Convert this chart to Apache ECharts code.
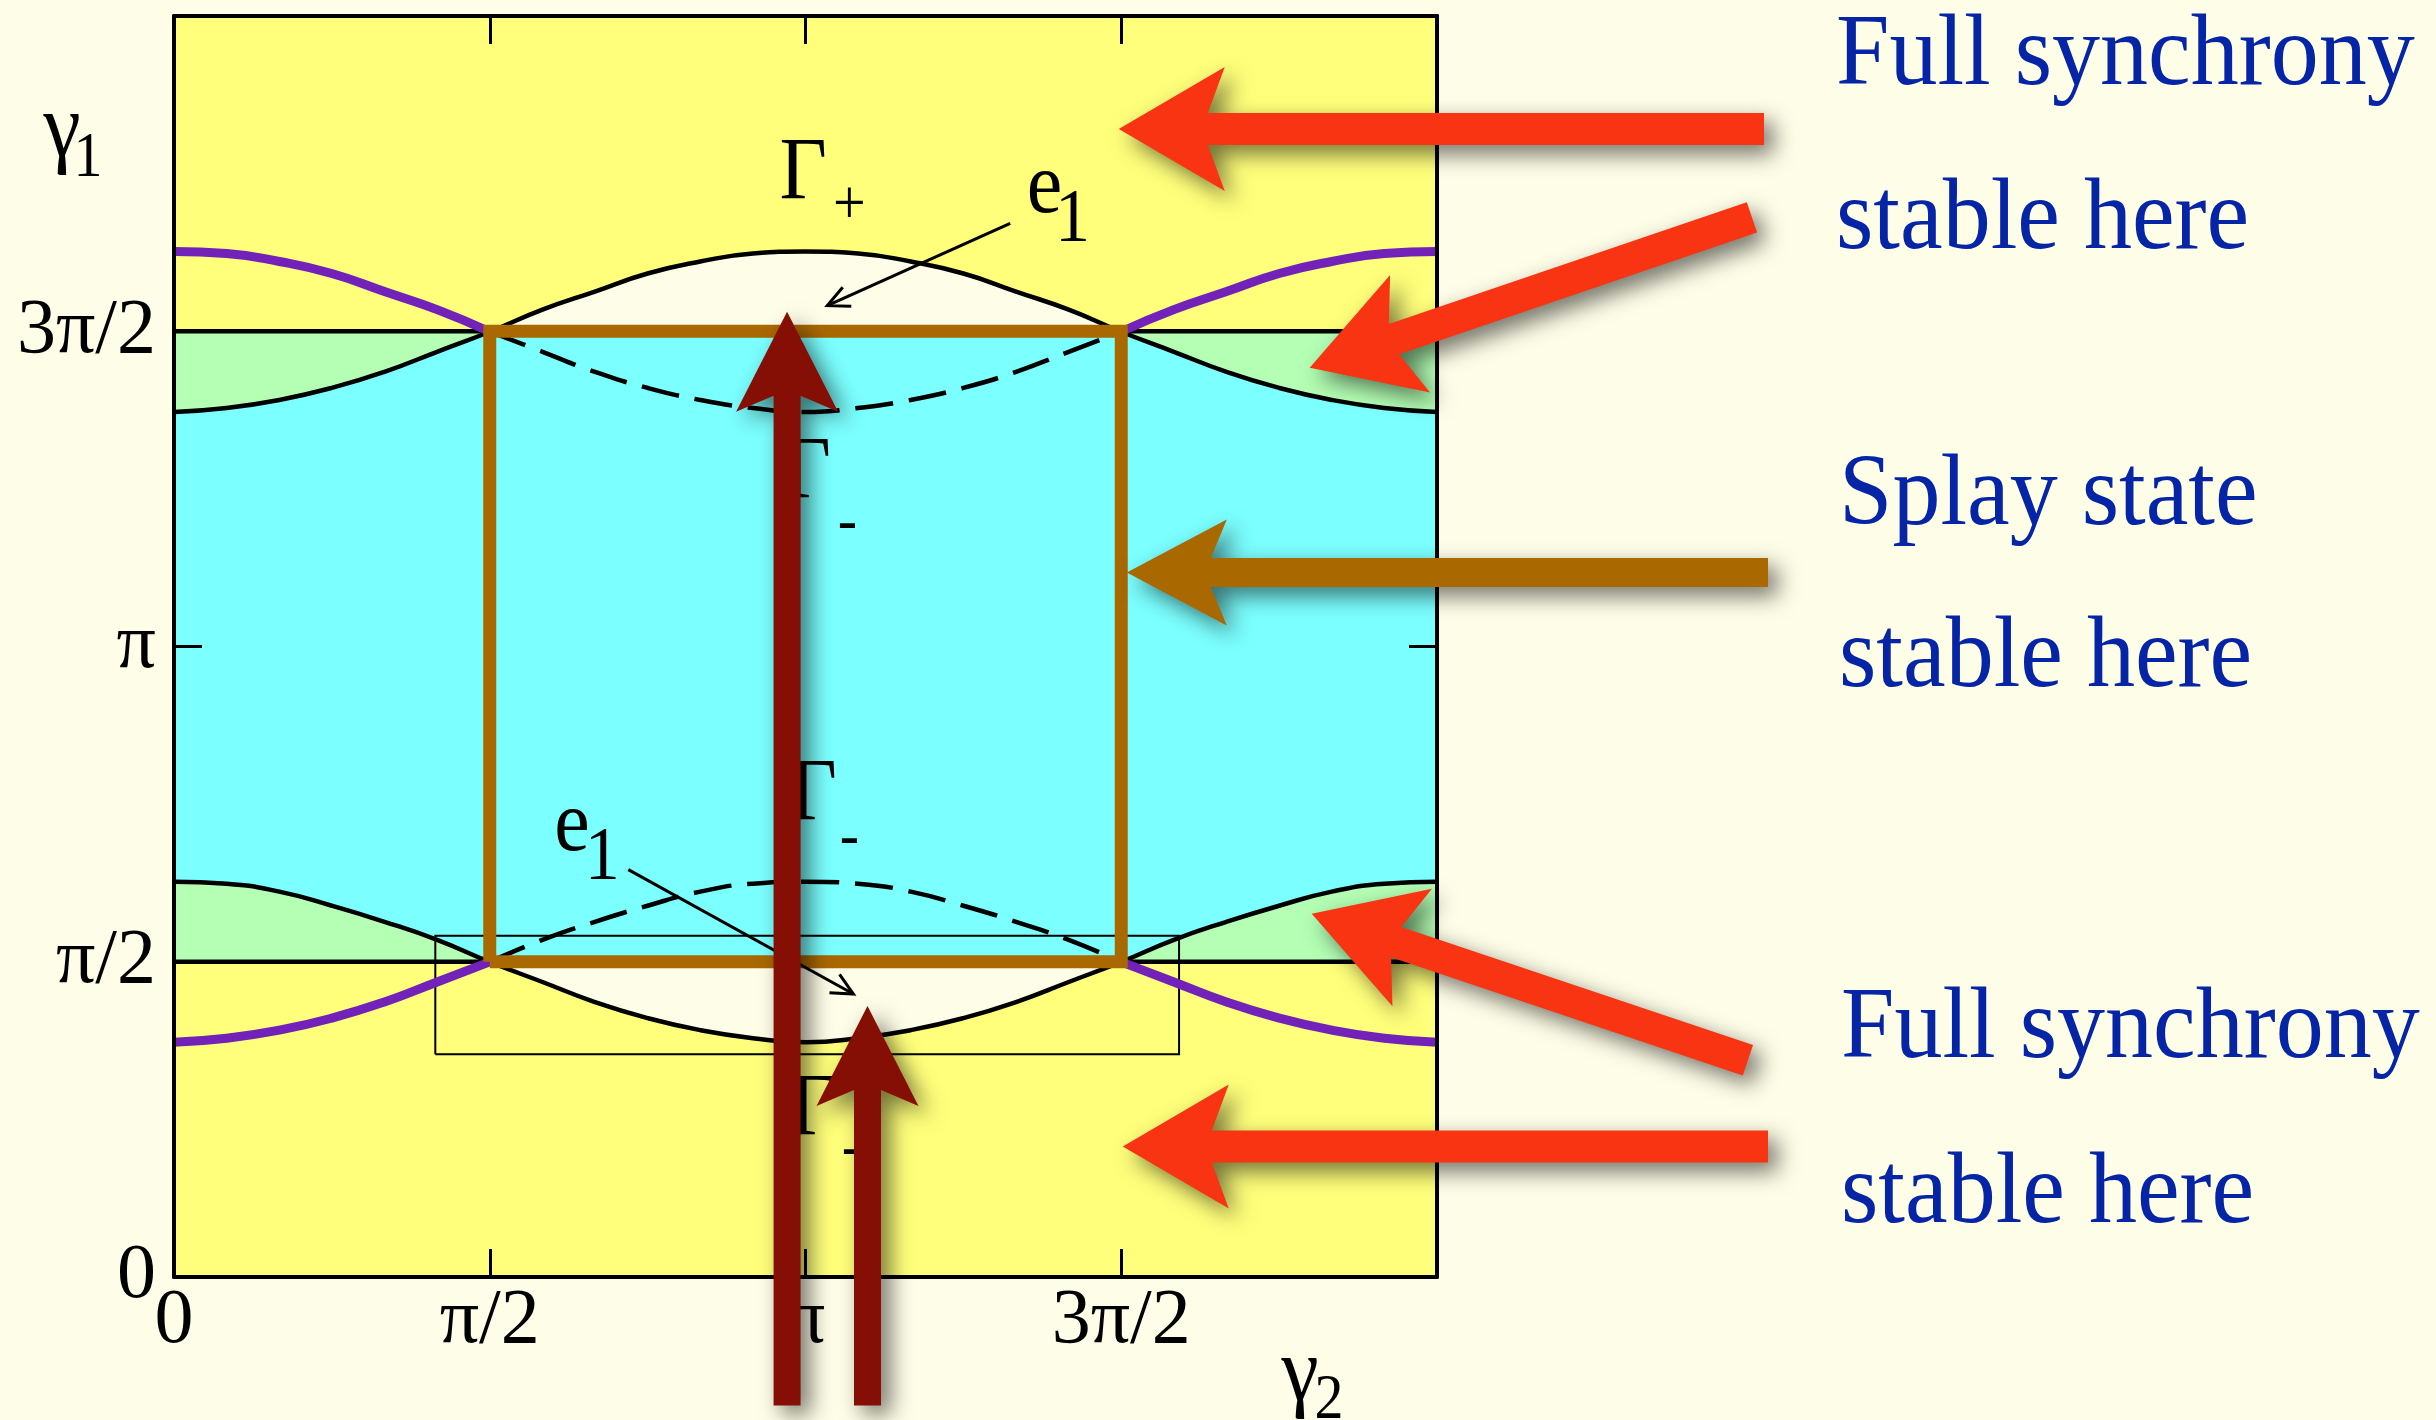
<!DOCTYPE html>
<html>
<head>
<meta charset="utf-8">
<script src="https://cdn.jsdelivr.net/npm/echarts@6/dist/echarts.min.js"></script>
<style>
  html, body { margin: 0; padding: 0; background: #fefde7; }
  #chart { width: 2436px; height: 1420px; }
</style>
</head>
<body>
<div id="chart"></div>
<script>
const PI = Math.PI;

// sample positions along γ2 (radians, steps of π/12)
const gamma2 = [0, 0.262, 0.524, 0.785, 1.047, 1.309, 1.571, 1.833, 2.094, 2.356, 2.618, 2.880,
                3.142, 3.403, 3.665, 3.927, 4.189, 4.451, 4.712, 4.974, 5.236, 5.498, 5.760, 6.021, 6.283];

// boundary through (π/2, 3π/2): high at the edges, dips in the middle
const upperA = [5.11, 5.10, 5.06, 5.00, 4.91, 4.82, 4.71, 4.61, 4.51, 4.43, 4.37, 4.33,
                4.31, 4.33, 4.37, 4.43, 4.51, 4.61, 4.71, 4.82, 4.91, 5.00, 5.06, 5.10, 5.11];
// boundary of Γ+: low at the edges, hump in the middle
const upperB = [4.31, 4.33, 4.37, 4.43, 4.51, 4.61, 4.71, 4.82, 4.91, 5.00, 5.06, 5.10,
                5.11, 5.10, 5.06, 5.00, 4.91, 4.82, 4.71, 4.61, 4.51, 4.43, 4.37, 4.33, 4.31];
// boundary of lower Γ-: high at the edges, dip in the middle
const lowerC = [1.97, 1.96, 1.92, 1.85, 1.77, 1.68, 1.57, 1.47, 1.37, 1.29, 1.23, 1.19,
                1.17, 1.19, 1.23, 1.29, 1.37, 1.47, 1.57, 1.68, 1.77, 1.85, 1.92, 1.96, 1.97];
// boundary through (π/2, π/2): low at the edges, hump in the middle
const lowerD = [1.17, 1.19, 1.23, 1.29, 1.37, 1.47, 1.57, 1.68, 1.77, 1.85, 1.92, 1.96,
                1.97, 1.96, 1.92, 1.85, 1.77, 1.68, 1.57, 1.47, 1.37, 1.29, 1.23, 1.19, 1.17];

const tickLabels = ['0', 'π/2', 'π', '3π/2', ''];
const splayBox = [[PI / 2, PI / 2], [3 * PI / 2, PI / 2], [3 * PI / 2, 3 * PI / 2], [PI / 2, 3 * PI / 2], [PI / 2, PI / 2]];
const insetBox = [[1.30, 1.11], [5.00, 1.11], [5.00, 1.70], [1.30, 1.70], [1.30, 1.11]];

const sideText = ['Full synchrony', 'stable here', 'Splay state', 'stable here', 'Full synchrony', 'stable here'];

// ---------------------------------------------------------------
const HALF = PI / 2, THREE_HALF = 3 * PI / 2, TWO_PI = 2 * PI;
const CREAM = '#fefde7', YELLOW = '#ffff7b', CYAN = '#7bffff', GREEN = '#b4ffb4';
const PURPLE = '#7222b8', BROWN = '#a96800', RED = '#f83412', DARKRED = '#850f04', BLUE = '#0524a6';
const SERIF = '"Liberation Serif", "Times New Roman", Times, serif';

function pts(ys, i0 = 0, i1 = gamma2.length - 1) {
  const out = [];
  for (let i = i0; i <= i1; i++) out.push([gamma2[i], ys[i]]);
  return out;
}

// region tops, painted bottom-up so that each later fill covers the earlier one
const whiteTop = upperB.map(v => Math.max(v, THREE_HALF));
const cyanTop = upperB.map(v => Math.min(v, THREE_HALF));
const greenLowTop = lowerC.map(v => Math.max(v, HALF));
const yellowLowTop = lowerC.map(v => Math.min(v, HALF));

const fill = (data, color, z) => ({
  type: 'line', data, symbol: 'none', silent: true, z, animation: false,
  lineStyle: { width: 0, opacity: 0 },
  areaStyle: { color, opacity: 1, origin: 'start' }
});
const stroke = (data, color, width, type, z, smooth = true) => ({
  type: 'line', data, symbol: 'none', silent: true, z, animation: false, smooth,
  lineStyle: { color, width, type, cap: 'butt', join: 'miter' }
});

const axisCommon = (pos, showLabel) => ({
  type: 'value', min: 0, max: TWO_PI, interval: HALF, position: pos, z: 20,
  axisLine: { show: true, onZero: false, lineStyle: { color: '#000', width: 4 } },
  axisTick: { show: true, inside: true, length: 28, lineStyle: { color: '#000', width: 3 } },
  splitLine: { show: false },
  axisLabel: {
    show: showLabel, color: '#000', fontFamily: SERIF, fontSize: 78,
    margin: pos === 'bottom' ? 6 : 18,
    formatter: v => tickLabels[Math.round(v / HALF)] || ''
  }
});

const chart = echarts.init(document.getElementById('chart'), null, { renderer: 'canvas', width: 2436, height: 1420 });

const DASH = [38, 16];

chart.setOption({
  backgroundColor: CREAM,
  animation: false,
  grid: { left: 174, top: 16, width: 1263, height: 1261, show: true, backgroundColor: YELLOW, borderWidth: 0 },
  xAxis: [axisCommon('bottom', true), axisCommon('top', false)],
  yAxis: [axisCommon('left', true), axisCommon('right', false)],
  series: [
    fill(pts(whiteTop), CREAM, 1),
    fill([[0, THREE_HALF], [TWO_PI, THREE_HALF]], GREEN, 2),
    fill(pts(cyanTop), CYAN, 3),
    fill(pts(greenLowTop), GREEN, 4),
    fill([[0, HALF], [TWO_PI, HALF]], CREAM, 5),
    fill(pts(yellowLowTop), YELLOW, 6),

    stroke(insetBox, '#000', 2, 'solid', 8, false),

    stroke([[0, HALF], [TWO_PI, HALF]], '#000', 4.5, 'solid', 9, false),
    stroke([[0, THREE_HALF], [TWO_PI, THREE_HALF]], '#000', 4.5, 'solid', 9, false),

    stroke(pts(upperB), '#000', 4.5, 'solid', 10),
    stroke(pts(lowerC), '#000', 4.5, 'solid', 10),
    stroke(pts(upperA, 6, 18), '#000', 4.5, DASH, 10),
    stroke(pts(lowerD, 6, 18), '#000', 4.5, DASH, 10),
    stroke(pts(upperA, 0, 6), PURPLE, 9, 'solid', 11),
    stroke(pts(upperA, 18, 24), PURPLE, 9, 'solid', 11),
    stroke(pts(lowerD, 0, 6), PURPLE, 9, 'solid', 11),
    stroke(pts(lowerD, 18, 24), PURPLE, 9, 'solid', 11),

    stroke(splayBox, BROWN, 13, 'solid', 12, false)
  ]
});

// ---------------------------------------------------------------
// annotations, anchored in (γ2, γ1) coordinates
const P = (x, y) => chart.convertToPixel({ xAxisIndex: 0, yAxisIndex: 0 }, [x, y]);

function text(x, y, str, size, color, align, z, sy = 1.08) {
  return {
    type: 'text', x, y, z, scaleY: sy, silent: true,
    style: {
      text: str, fill: color, font: size + 'px ' + SERIF,
      textAlign: align, textVerticalAlign: 'middle', align, verticalAlign: 'middle'
    }
  };
}

// thick callout arrow with a swept-back head and a soft drop shadow
function fatArrow(tail, tip, color, z, T, L, W) {
  const [tx, ty] = P(tail[0], tail[1]);
  const [hx, hy] = P(tip[0], tip[1]);
  const notch = 0.84 * L;
  const len = Math.hypot(hx - tx, hy - ty);
  const dx = (hx - tx) / len, dy = (hy - ty) / len;
  const nx = -dy, ny = dx;
  const at = (d, w) => [hx - dx * d + nx * w, hy - dy * d + ny * w];
  const points = [
    [hx, hy], at(L, W / 2), at(notch, T / 2),
    [tx + nx * T / 2, ty + ny * T / 2], [tx - nx * T / 2, ty - ny * T / 2],
    at(notch, -T / 2), at(L, -W / 2)
  ];
  return {
    type: 'polygon', z, silent: true,
    shape: { points },
    style: { fill: color, shadowBlur: 22, shadowColor: 'rgba(0,0,0,0.55)', shadowOffsetX: 9, shadowOffsetY: 9 }
  };
}

function thinArrow(from, to, z) {
  const [ax, ay] = P(from[0], from[1]);
  const [bx, by] = P(to[0], to[1]);
  const ang = Math.atan2(by - ay, bx - ax);
  const h = 24, spread = 0.45;
  const head = [
    [bx - h * Math.cos(ang - spread), by - h * Math.sin(ang - spread)],
    [bx, by],
    [bx - h * Math.cos(ang + spread), by - h * Math.sin(ang + spread)]
  ];
  return [
    { type: 'polyline', z, silent: true, shape: { points: [[ax, ay], [bx, by]] }, style: { stroke: '#000', lineWidth: 3, fill: null } },
    { type: 'polyline', z, silent: true, shape: { points: head }, style: { stroke: '#000', lineWidth: 3, fill: null } }
  ];
}

const labelAt = (main, mainPos, sub, subPos, mainSize, subSize) => {
  const [mx, my] = P(mainPos[0], mainPos[1]);
  const [sx, sy] = P(subPos[0], subPos[1]);
  return [text(mx, my, main, mainSize, '#000', 'center', 30), text(sx, sy, sub, subSize, '#000', 'center', 30)];
};

const graphics = [];
// region names
graphics.push(...labelAt('Γ', [3.13, 5.49], '+', [3.36, 5.33], 82, 58));
graphics.push(...labelAt('Γ', [3.15, 4.00], '-', [3.35, 3.75], 82, 58));
graphics.push(...labelAt('Γ', [3.18, 2.40], '-', [3.36, 2.18], 82, 58));
graphics.push(...labelAt('Γ', [3.18, 0.83], '-', [3.37, 0.63], 82, 58));
// eigenvector labels and pointers
graphics.push(...labelAt('e', [4.33, 5.42], '1', [4.47, 5.26], 80, 70));
graphics.push(...thinArrow([4.16, 5.25], [3.25, 4.84], 31));
graphics.push(...labelAt('e', [1.98, 2.24], '1', [2.13, 2.08], 80, 70));
graphics.push(...thinArrow([2.26, 2.03], [3.38, 1.41], 31));

// axis names
graphics.push(text(62, 132, 'γ', 84, '#000', 'center', 30));
graphics.push(text(88, 160, '1', 58, '#000', 'center', 30));
graphics.push(text(1300, 1376, 'γ', 84, '#000', 'center', 30));
graphics.push(text(1329, 1402, '2', 58, '#000', 'center', 30));

// explanatory text on the right
const sideY = [58, 222, 498, 660, 1031, 1196];
const sideX = [1836, 1836, 1839, 1839, 1841, 1841];
sideText.forEach((s, i) => graphics.push(text(sideX[i], sideY[i], s, 96, BLUE, 'left', 30, 1.05)));

// callout arrows
graphics.push(fatArrow([7.91, 5.72], [4.70, 5.72], RED, 50, 32, 106, 124));
graphics.push(fatArrow([7.85, 5.28], [5.65, 4.53], RED, 50, 32, 106, 124));
graphics.push(fatArrow([7.93, 3.51], [4.74, 3.51], BROWN, 50, 29, 100, 106));
graphics.push(fatArrow([7.83, 1.08], [5.66, 1.81], RED, 50, 32, 106, 124));
graphics.push(fatArrow([7.93, 0.65], [4.72, 0.65], RED, 50, 32, 106, 124));
graphics.push(fatArrow([3.05, -0.64], [3.05, 4.81], DARKRED, 40, 27, 100, 102));
graphics.push(fatArrow([3.45, -0.64], [3.45, 1.35], DARKRED, 40, 27, 100, 102));

chart.setOption({ graphic: { elements: graphics } });
</script>
</body>
</html>
